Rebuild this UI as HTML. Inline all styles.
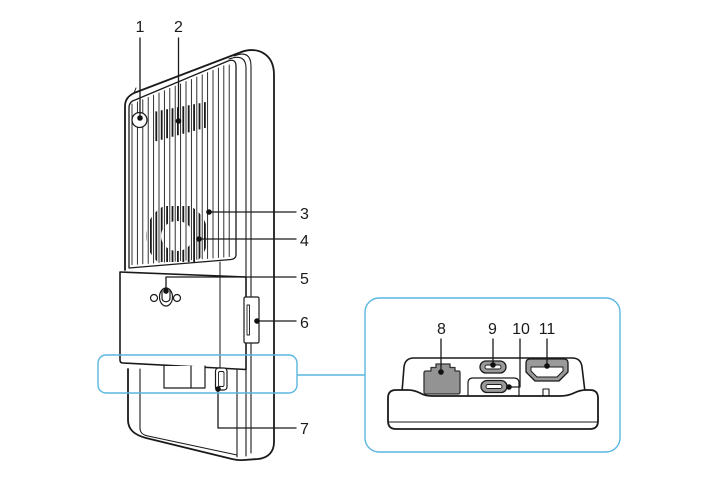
<!DOCTYPE html>
<html><head><meta charset="utf-8"><style>
html,body{margin:0;padding:0;background:#fff}
svg{display:block}
text{font-family:"Liberation Sans",sans-serif;font-size:16px;fill:#1a1a1a}
</style></head><body>
<svg width="720" height="480" viewBox="0 0 720 480" xmlns="http://www.w3.org/2000/svg">
<defs>
<clipPath id="ring"><path clip-rule="evenodd" d="M146,236 a31,33 0 1,0 62,0 a31,33 0 1,0 -62,0 Z M161,236 a16,15 0 1,0 32,0 a16,15 0 1,0 -32,0 Z"/></clipPath>
</defs>
<rect width="720" height="480" fill="#fff"/>
<g fill="none" stroke="#1a1a1a" stroke-linecap="round" stroke-linejoin="round">
<!-- shell outer -->
<path stroke-width="1.8" d="M125,270 L125,106 C125,100 128,96 134,93 L240,52.5 C255,46 274,52 274,75 L274,442 C274,452 268,458 258,459 L244,460 C239,460.5 236,460 232,459 L146,438 C135,435 128,430 128,420 L128,369"/>
<path stroke-width="1" d="M134,93 L136,88"/>
<!-- bevel lines -->
<path stroke-width="1.1" d="M229,59 C240,55 246,58 246,68 L246,297 M246,343 L246,456"/>
<path stroke-width="1.1" d="M234,56 C246,51 251,56 251,66 L251,453"/>
<path stroke-width="1.1" d="M237,369 L237,457"/>
<path stroke-width="1.1" d="M140,369 L140,428 C140,433 143,435 148,436 L237,455"/>
<!-- vent panel -->
<path stroke-width="1.3" fill="#fff" d="M129,268 L129,108 C129,104 131,101 135,100 L228,61 C233,59 236,61 236,66 L236,255 C236,258 234,259 231,259.5 Z"/>
<g stroke-width="0.9">
<path d="M132,104V264.7M137.4,102V264.3M142.8,99.7V263.8M148.2,97.5V263.4M153.6,95.2V263M159,92.9V262.5M164.4,90.7V262M169.8,88.4V261.6M175.2,86.2V261.2M180.6,83.9V260.7M186,81.6V260.2M191.4,79.4V259.8M196.8,77.1V259.3M202.2,74.8V258.9M207.6,72.6V258.5M213,70.3V258M218.4,68.1V257.5M223.8,65.8V257.1M229.2,65V256.6"/>
</g>
<g stroke-width="1.8" stroke-linecap="butt">
<path d="M156.3,111.4V141.1M161.7,110.3V139.7M167.1,109.3V138.2M172.5,108.3V136.7M177.9,107.3V135.3M183.3,106.2V133.8M188.7,105.2V132.4M194.1,104.2V130.9M199.5,103.2V129.4M204.9,102.1V128"/>
</g>
<g stroke-width="1.8" stroke-linecap="butt" clip-path="url(#ring)">
<path d="M145.5,206V262M150.9,206V262M156.3,206V262M161.7,206V262M167.1,206V262M172.5,206V262M177.9,206V262M183.3,206V262M188.7,206V262M194.1,206V262M199.5,206V262M204.9,206V262"/>
</g>
<!-- lens -->
<circle cx="139.5" cy="120" r="7.5" stroke-width="1.3" fill="#fff"/>
<!-- vertical line -->
<path stroke-width="1" d="M220,262 L220,368"/>
<!-- plate -->
<path stroke-width="1.6" fill="#fff" d="M120,272 L246,277 L246,369.5 L123,363 C121,363 120,362 120,360 Z"/>
<path stroke-width="1" d="M220,277 L220,369"/>
<!-- tripod socket -->
<circle cx="154" cy="298" r="3.5" stroke-width="1.2"/>
<circle cx="177" cy="298" r="3.5" stroke-width="1.2"/>
<ellipse cx="166" cy="297" rx="6.5" ry="9" stroke-width="1.2"/>
<path stroke-width="1.2" d="M162,290 L162,298 C162,303 170,303 170,298 L170,290"/>
<!-- slot 6 -->
<rect x="244" y="297" width="15" height="46" rx="1.5" stroke-width="1.2" fill="#fff"/>
<rect x="247" y="305" width="2.5" height="30" stroke-width="0.9"/>
<!-- connector block -->
<path stroke-width="1.2" fill="#fff" d="M164,366 L164,388 L205,388 L205,366 M191,366 L191,388"/>
<!-- port 7 -->
<rect x="215.5" y="368" width="11.5" height="22" rx="3" stroke-width="1.2" fill="#fff"/>
<rect x="218.5" y="371.5" width="5.5" height="15" rx="1.5" stroke-width="0.9"/>
<!-- leaders left -->
<g stroke-width="1.3">
<path d="M140,38 L140,118"/>
<path d="M178.5,38 L178.5,120"/>
<path d="M209,212 L296,212"/>
<path d="M199,239 L296,239"/>
<path d="M166,291 L166,277 L296,277"/>
<path d="M257,321 L296,321"/>
<path d="M218,389 L218,428 L296,428"/>
</g>
</g>
<g fill="#111">
<circle cx="140" cy="118" r="2.8"/>
<circle cx="178.5" cy="121" r="2.8"/>
<circle cx="209" cy="212" r="2.8"/>
<circle cx="199" cy="239" r="2.8"/>
<circle cx="166" cy="291" r="2.8"/>
<circle cx="257" cy="321" r="2.8"/>
<circle cx="218" cy="389" r="2.8"/>
</g>
<!-- blue highlight -->
<g fill="none" stroke="#5ab7df" stroke-width="1.4">
<rect x="98" y="355" width="199" height="38" rx="8"/>
<path d="M297,375 L365,375"/>
<rect x="365" y="298" width="255" height="154" rx="14"/>
</g>
<!-- end view -->
<g stroke="#1a1a1a" stroke-linejoin="round" stroke-linecap="round">
<path stroke-width="1.6" fill="#fff" d="M402,392 L404,367 Q405,358 414,358 L572,358 Q581,358 582,367 L585,392"/>
<path stroke-width="1.8" fill="#fff" d="M388,398 Q388,390 396,390 L408,390 Q414,390 420,393 Q425,396 432,396 L560,396 Q568,396 574,393 Q580,390 586,390 L590,390 Q598,390 598,398 L598,421 Q598,429 590,429 L396,429 Q388,429 388,421 Z"/>
<path stroke-width="1.1" fill="none" d="M389,422 L597,422"/>
<!-- ethernet -->
<path stroke-width="1.3" stroke="#333" fill="#939393" d="M426,371 L431,371 L431,367.5 L436,367.5 L436,364 L450,364 L450,367.5 L455,367.5 L455,371 L459,371 Q460,371 460,373 L460,392 Q460,394 458,394 L426,394 Q424,394 424,392 L424,373 Q424,371 426,371 Z"/>
<!-- usb-c 9 -->
<rect x="480" y="361" width="26" height="12" rx="6" stroke-width="1.3" fill="#9a9a9a"/>
<rect x="485" y="365" width="16" height="4" rx="2" stroke-width="0.9" fill="#fff"/>
<!-- usb-c 10 panel -->
<path stroke-width="1.2" fill="none" d="M468,396 L468,383 Q468,378 473,378 L514,378 Q519,378 519,383 L519,396"/>
<rect x="481" y="380.5" width="26" height="12" rx="6" stroke-width="1.3" fill="#9a9a9a"/>
<rect x="486" y="384.5" width="16" height="4" rx="2" stroke-width="0.9" fill="#fff"/>
<!-- hdmi -->
<path stroke-width="1.3" fill="#9a9a9a" d="M530,359 L564,359 Q568,359 568,363 L568,372 L559,381 L535,381 L526,372 L526,363 Q526,359 530,359 Z"/>
<path stroke-width="1" fill="#fff" d="M531,367 L563,367 L563,371 L557,377 L537,377 L531,371 Z"/>
<!-- small rect -->
<path stroke-width="1.1" fill="none" d="M543,396 L543,389 L549,389 L549,396"/>
<!-- leaders -->
<g stroke-width="1.3" fill="none">
<path d="M441,339 L441,372"/>
<path d="M493,339 L493,364"/>
<path d="M509,387 L520,387 L520,339"/>
<path d="M547,339 L547,366"/>
</g>
</g>
<g fill="#111">
<circle cx="441" cy="372" r="2.8"/>
<circle cx="493" cy="365" r="2.8"/>
<circle cx="509" cy="387" r="2.8"/>
<circle cx="547" cy="366" r="2.8"/>
</g>
<!-- labels -->
<text x="140" y="32" text-anchor="middle">1</text>
<text x="178.5" y="32" text-anchor="middle">2</text>
<text x="300" y="219">3</text>
<text x="300" y="246">4</text>
<text x="300" y="284">5</text>
<text x="300" y="328">6</text>
<text x="300" y="434">7</text>
<text x="441.5" y="334" text-anchor="middle">8</text>
<text x="492.5" y="334" text-anchor="middle">9</text>
<text x="521" y="334" text-anchor="middle">10</text>
<text x="547" y="334" text-anchor="middle">11</text>
</svg>
</body></html>
